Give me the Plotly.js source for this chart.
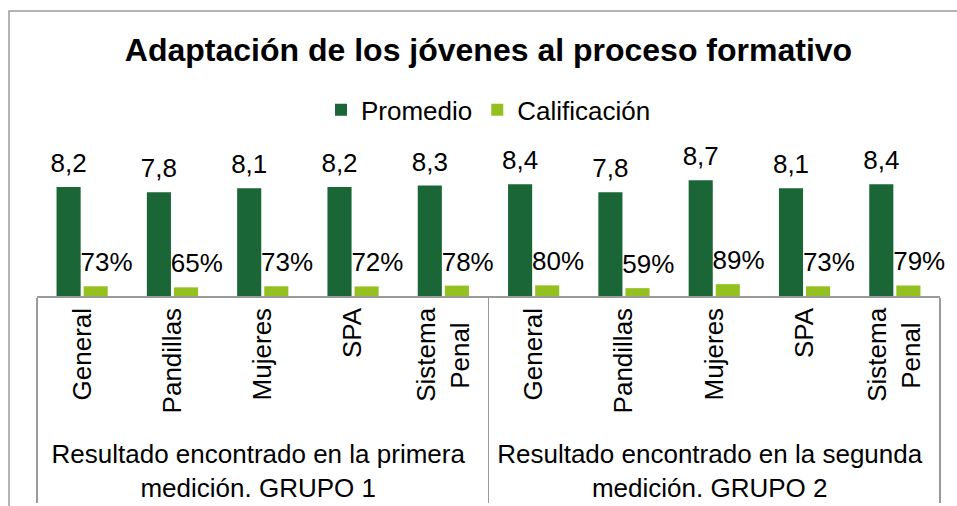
<!DOCTYPE html>
<html>
<head>
<meta charset="utf-8">
<script src="https://cdn.plot.ly/plotly-3.0.1.min.js"></script>
<style>html,body{margin:0;padding:0;background:#fff;}#chart{width:957px;height:506px;}</style>
</head>
<body>
<div id="chart"></div>
<script>
const groups = [
  "Resultado encontrado en la primera<br>medición. GRUPO 1",
  "Resultado encontrado en la segunda<br>medición. GRUPO 2"
];
const categories = ["General", "Pandillas", "Mujeres", "SPA", "Sistema<br>Penal\u00A0\u00A0"];
const promedioG1 = [8.2, 7.8, 8.1, 8.2, 8.3];
const promedioG2 = [8.4, 7.8, 8.7, 8.1, 8.4];
const calificacionG1 = [0.73, 0.65, 0.73, 0.72, 0.78];
const calificacionG2 = [0.80, 0.59, 0.89, 0.73, 0.79];

const outer = [], inner = [];
groups.forEach(g => categories.forEach(c => { outer.push(g); inner.push(c); }));
const xMulti = [outer, inner];
const promedio = promedioG1.concat(promedioG2);
const calificacion = calificacionG1.concat(calificacionG2);

const FAM = "'Liberation Sans', Arial, sans-serif";
const font = {family: FAM, size: 26, color: "#000"};

function labels(name, y, tpl) {
  return {
    type: "scatter", mode: "markers+text", name: name + " etiqueta", showlegend: false,
    x: xMulti, y: y, offsetgroup: name, alignmentgroup: "a",
    marker: {size: 12, color: "rgba(0,0,0,0)"},
    texttemplate: tpl, textposition: "top center",
    textfont: font, cliponaxis: false, hoverinfo: "skip"
  };
}

const traces = [
  {
    type: "bar", name: "Promedio", x: xMulti, y: promedio,
    offsetgroup: "Promedio", alignmentgroup: "a",
    marker: {color: "#1a6636"}, hoverinfo: "skip"
  },
  {
    type: "bar", name: "Calificación", x: xMulti, y: calificacion,
    offsetgroup: "Calificación", alignmentgroup: "a",
    marker: {color: "#94c11f"}, hoverinfo: "skip"
  },
  labels("Promedio", promedio, "%{y:.1f}"),
  labels("Calificación", calificacion, "\u00A0\u00A0\u00A0%{y:.0%}")
];

const layout = {
  width: 957, height: 506,
  margin: {l: 37, r: 17, t: 163, b: 210},
  paper_bgcolor: "#fff", plot_bgcolor: "#fff",
  separators: ",.",
  font: font,
  barmode: "group", bargap: 0.4, bargroupgap: 0.11,
  scattermode: "group", scattergap: 0.4,
  showlegend: true,
  title: {
    text: "<b>Adaptación de los jóvenes al proceso formativo</b>",
    font: {family: FAM, size: 32, color: "#000"},
    x: 0.5, xref: "paper", xanchor: "center",
    y: 1 - 50/506, yref: "container", yanchor: "middle"
  },
  legend: {
    orientation: "h", x: 0.5, xanchor: "center", y: 1.4, yanchor: "middle",
    font: font, itemwidth: 30, traceorder: "normal"
  },
  xaxis: {
    type: "multicategory", tickangle: -90, ticks: "",
    showline: true, linecolor: "#9a9a9a", linewidth: 1.5,
    showdividers: true, dividercolor: "#9a9a9a", dividerwidth: 1.5,
    tickfont: font, showgrid: false, zeroline: false
  },
  yaxis: {
    range: [0, 10], visible: false, showgrid: false, zeroline: false, fixedrange: true
  },
  shapes: [{
    type: "rect", xref: "paper", yref: "paper",
    x0: (9 - 37) / 903, x1: 1.2, y0: -2, y1: (296 - 11) / 133,
    line: {color: "#9a9a9a", width: 1.5}, fillcolor: "rgba(0,0,0,0)", layer: "below"
  }]
};

Plotly.newPlot("chart", traces, layout, {displayModeBar: false, staticPlot: true});
</script>
</body>
</html>
